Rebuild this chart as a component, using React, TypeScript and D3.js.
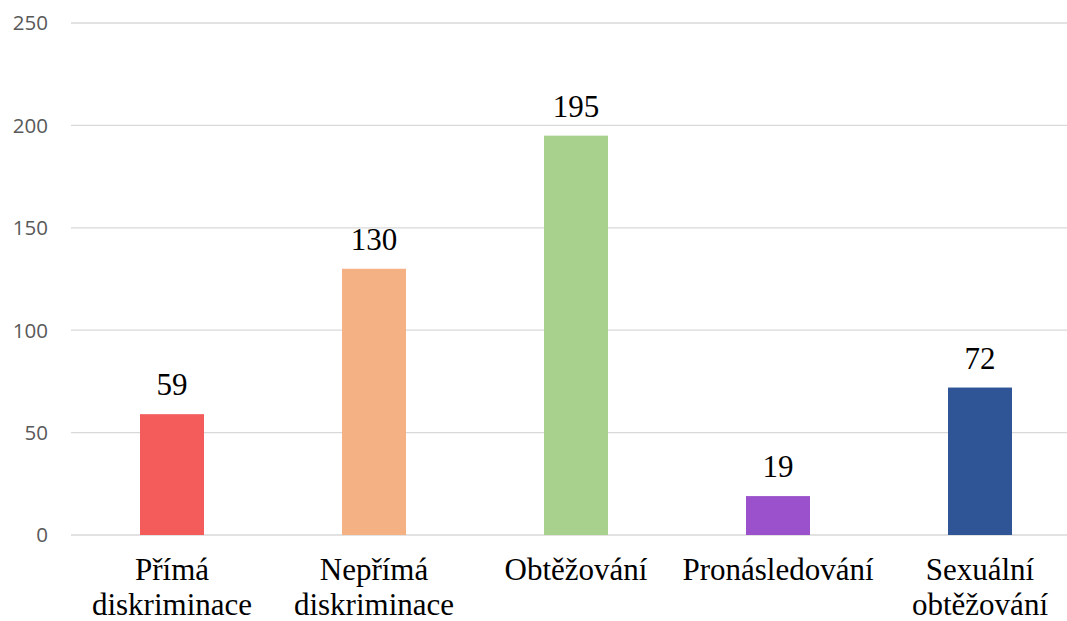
import React from "react";
import * as d3 from "d3";

const categories: string[][] = [
  ["Přímá", "diskriminace"],
  ["Nepřímá", "diskriminace"],
  ["Obtěžování"],
  ["Pronásledování"],
  ["Sexuální", "obtěžování"],
];
const values: number[] = [59, 130, 195, 19, 72];
const colors: string[] = ["#F45B5B", "#F4B183", "#A9D18E", "#9A51CB", "#2F5597"];
const yTicks: number[] = [0, 50, 100, 150, 200, 250];

export default function App() {
  const W = 1067, H = 621;
  const x = d3.scaleBand<number>().domain(d3.range(values.length)).range([71, 1081]).paddingInner(0).paddingOuter(0);
  const y = d3.scaleLinear().domain([0, 250]).range([535, 23]);
  const barW = 64;
  return (
    <svg width={W} height={H} style={{ position: "absolute", left: 0, top: 0, display: "block" }}>
      <rect width={W} height={H} fill="#fff" />
      {yTicks.map((t) => (
        <g key={t}>
          <line x1={71} x2={1081} y1={y(t)} y2={y(t)} stroke="#D9D9D9" strokeWidth={1.3} />
          <text x={48} y={y(t)} dy="0.36em" textAnchor="end" fontFamily="'Open Sans', 'Liberation Sans', sans-serif" fontSize={20.5} fill="#595959">{t}</text>
        </g>
      ))}
      {values.map((v, i) => {
        const cx = (x(i) as number) + x.bandwidth() / 2;
        return (
          <g key={i}>
            <rect x={cx - barW / 2} y={y(v)} width={barW} height={y(0) - y(v)} fill={colors[i]} />
            <text x={cx} y={y(v) - 19} textAnchor="middle" fontFamily="'Liberation Serif', 'Times New Roman', serif" fontSize={31} fill="#000">{v}</text>
            {categories[i].map((line, j) => (
              <text key={j} x={cx} y={580 + j * 34.5} textAnchor="middle" fontFamily="'Liberation Serif', 'Times New Roman', serif" fontSize={31} fill="#000">{line}</text>
            ))}
          </g>
        );
      })}
    </svg>
  );
}
